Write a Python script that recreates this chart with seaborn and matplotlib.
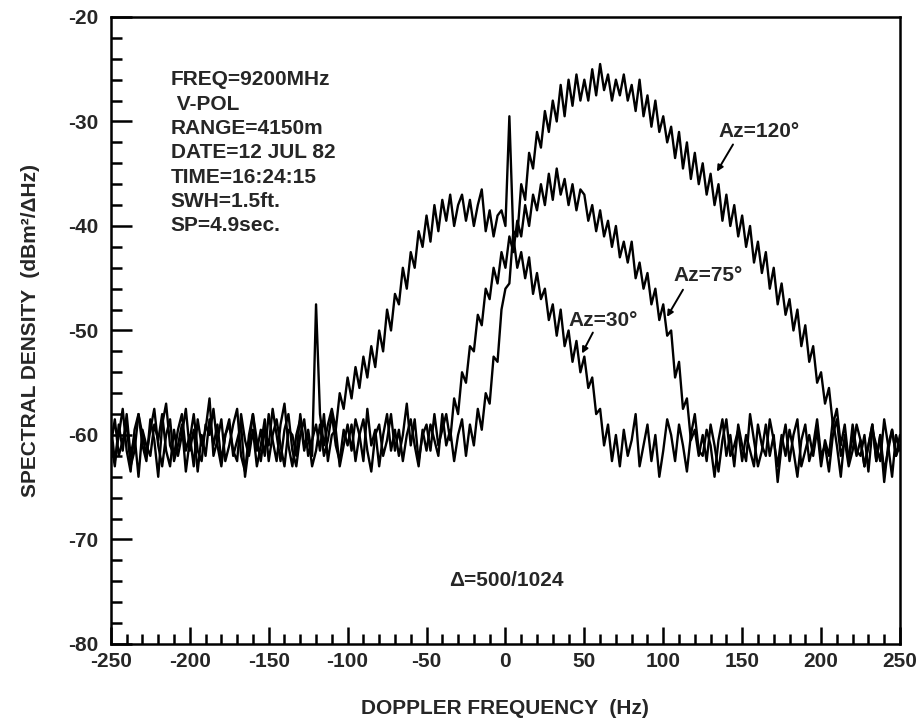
import numpy as np
import pandas as pd
import matplotlib
matplotlib.use("Agg")
import matplotlib.pyplot as plt
from matplotlib.ticker import MultipleLocator
import seaborn as sns

# Doppler frequency bins (Hz), 2.5 Hz spacing from -250 to 250
freq_hz = np.arange(-250.0, 250.0 + 0.01, 2.5)

# Spectral density (dBm^2/dHz), Az = 30 deg
az30 = [
    -59, -62.5, -60, -57.5, -61.5, -63.5, -59.5, -58, -61, -62.5,
    -58.5, -60.5, -64, -59, -57, -61, -62, -59.5, -58, -61.5,
    -60, -63, -58.5, -61, -59.5, -56.5, -62, -60.5, -58.5, -62.5,
    -61, -59, -57.5, -62, -63.5, -60, -58, -61.5, -59.5, -62,
    -58, -60.5, -62.5, -59, -57, -61, -63, -60, -58.5, -61.5,
    -59.5, -62, -47.5, -58, -61, -59, -57.5, -59.5, -56, -57.5,
    -54.5, -56.5, -53.5, -55.5, -52.5, -54.5, -51.5, -53.5, -50, -52,
    -48, -50, -46.5, -47.5, -44, -46, -42.5, -44, -40.5, -42,
    -39, -41.5, -38, -40.5, -37.5, -39.5, -37, -40, -38, -37,
    -39.5, -37.5, -40, -38, -36.5, -40.5, -38.5, -41, -39, -38.5,
    -40, -29.5, -41, -44, -42.5, -45, -43, -46.5, -44.5, -47,
    -46, -49, -47.5, -50.5, -48, -51.5, -50, -53, -51, -54,
    -52.5, -55.5, -54.5, -58, -57.5, -61, -59, -62.5, -60, -63,
    -59.5, -62, -60.5, -58, -63, -61, -59, -62.5, -60, -64,
    -61.5, -58.5, -60, -62.5, -59, -61, -63.5, -60, -58, -61.5,
    -62, -59.5, -61, -64, -60.5, -58.5, -62, -60, -63, -59,
    -61, -62.5, -58, -60.5, -63, -61.5, -59, -62, -60, -64.5,
    -61, -59, -62.5, -60, -58.5, -63, -61.5, -60, -62, -59.5,
    -63, -60.5, -62, -58.5, -61, -64, -60, -62.5, -59, -61.5,
    -62, -60, -63.5, -59.5, -61, -62.5, -58.5, -61, -64, -60,
    -61.5,
]

# Az = 75 deg
az75 = [
    -61, -58.5, -62, -60.5, -59, -63, -61.5, -58, -60, -62,
    -59.5, -57.5, -61, -63, -60, -58.5, -62.5, -61, -59, -63.5,
    -60.5, -58, -61.5, -62.5, -59, -60, -57.5, -61, -63, -60,
    -58.5, -62, -60.5, -59, -64, -61, -58, -60.5, -62.5, -59.5,
    -61, -57.5, -60, -62.5, -59.5, -58, -61.5, -63, -60, -58.5,
    -62, -60.5, -59, -61.5, -58, -62.5, -60, -59.5, -63, -61,
    -59, -61.5, -58.5, -60, -62.5, -57.5, -61, -59.5, -63, -60,
    -58, -61.5, -59.5, -62, -60, -57, -61, -58.5, -62.5, -60,
    -59, -61.5, -58, -61, -59.5, -58, -60.5, -56.5, -58, -54,
    -55, -51.5, -52, -48.5, -49.5, -46, -47, -44, -45.5, -42.5,
    -44, -41, -42.5, -39.5, -41, -38, -40, -37, -38.5, -36,
    -38, -35, -37.5, -34.5, -37, -35.5, -38, -36, -38.5, -36.5,
    -37, -39.5, -38, -40.5, -38.5, -41, -39.5, -42, -40, -43,
    -41.5, -43.5, -41.5, -45, -43.5, -46, -44.5, -47.5, -46, -49,
    -47.5, -50.5, -50, -54.5, -53, -57.5, -56.5, -60.5, -59.5, -62,
    -60, -62.5, -59, -61, -63.5, -60.5, -58.5, -62, -61, -59.5,
    -62.5, -60, -61.5, -63, -59, -61, -62, -58.5, -60.5, -63,
    -60, -62, -59.5, -61.5, -64, -60.5, -59, -62.5, -61, -58.5,
    -62, -61, -63.5, -60, -58.5, -62, -60.5, -63, -61.5, -59,
    -60.5, -63, -61, -59, -62.5, -60, -64.5, -61, -59.5, -62,
    -60,
]

# Az = 120 deg
az120 = [
    -60.5, -63, -59, -61.5, -58, -62, -60, -64, -59.5, -61,
    -62, -59, -60.5, -58, -61.5, -63, -59.5, -62, -60, -57.5,
    -61.5, -59.5, -63.5, -60, -62, -58.5, -61, -59, -62.5, -60,
    -59, -61.5, -62.5, -58, -60.5, -62, -59.5, -63, -61, -58.5,
    -62.5, -60, -58.5, -61, -63, -59.5, -60, -62, -58, -61,
    -60, -63, -61.5, -59, -62, -60.5, -58, -61, -62.5, -59.5,
    -61, -59, -62.5, -60, -58.5, -61.5, -63.5, -60, -59, -62,
    -60.5, -58, -61.5, -59.5, -62.5, -60, -58.5, -61, -63, -59.5,
    -61.5, -59, -60.5, -62, -58, -61, -59.5, -62.5, -60, -58.5,
    -62, -59, -61, -57.5, -59.5, -56, -57, -52.5, -53, -48,
    -46, -45.5, -40.5, -41, -36, -37.5, -33, -34.5, -31, -32.5,
    -29, -31, -28, -30, -26.5, -29.5, -26, -28.5, -25.5, -28,
    -26, -28, -25, -27.5, -24.5, -27, -25.5, -28, -26, -27.5,
    -25.5, -28, -26.5, -29, -26, -29.5, -27.5, -30.5, -28, -31,
    -29.5, -32, -30.5, -33.5, -31, -34.5, -32, -35.5, -33, -36,
    -34, -37, -35, -38, -36, -39.5, -37, -40, -38, -41,
    -39, -42, -40, -43.5, -41.5, -44.5, -42.5, -46, -44, -47.5,
    -45.5, -48.5, -47, -50, -48, -51.5, -49.5, -53, -51.5, -55,
    -54, -57, -55.5, -59, -57.5, -61, -59, -62.5, -60, -62,
    -60.5, -63, -61, -59, -62.5, -60, -63.5, -61.5, -59.5, -62,
    -61,
]

series_names = ["Az=30°", "Az=75°", "Az=120°"]

info_lines = ["FREQ=9200MHz", " V-POL", "RANGE=4150m", "DATE=12 JUL 82",
              "TIME=16:24:15", "SWH=1.5ft.", "SP=4.9sec."]

frames = []
for name, vals in zip(series_names, [az30, az75, az120]):
    frames.append(pd.DataFrame({"freq": freq_hz, "dens": vals, "az": name}))
df = pd.concat(frames, ignore_index=True)

sns.set_style("ticks")
plt.rcParams["font.family"] = ["Liberation Sans", "DejaVu Sans"]
plt.rcParams["font.weight"] = "bold"
plt.rcParams["axes.unicode_minus"] = False

fig = plt.figure(figsize=(9.24, 7.23), dpi=100)
ax = fig.add_axes([0.120, 0.1093, 0.854, 0.8672])

sns.lineplot(data=df, x="freq", y="dens", units="az", estimator=None,
             color="black", linewidth=1.7, sort=False, ax=ax, legend=False)

ax.set_xlim(-250, 250)
ax.set_ylim(-80, -20)
ax.xaxis.set_major_locator(MultipleLocator(50))
ax.xaxis.set_minor_locator(MultipleLocator(10))
ax.yaxis.set_major_locator(MultipleLocator(10))
ax.yaxis.set_minor_locator(MultipleLocator(2))

fs = 15
ax.tick_params(axis="both", which="both", direction="in", color="black",
               width=1.8, labelsize=fs)
ax.tick_params(axis="y", which="major", length=15, pad=9)
ax.tick_params(axis="y", which="minor", length=8)
ax.tick_params(axis="x", which="major", length=12, pad=6)
ax.tick_params(axis="x", which="minor", length=7)
for lab in ax.get_xticklabels() + ax.get_yticklabels():
    lab.set_fontweight("bold")

for sp in ax.spines.values():
    sp.set_linewidth(1.8)
    sp.set_color("black")

ax.set_xlabel("DOPPLER FREQUENCY  (Hz)", fontsize=fs, fontweight="bold",
              labelpad=20)
ax.set_ylabel("SPECTRAL DENSITY  (dBm²/ΔHz)", fontsize=fs, fontweight="bold",
              labelpad=20)

# Info block
y0, dy = -26.0, -2.33
for i, line in enumerate(info_lines):
    ax.text(-212, y0 + i * dy, line, fontsize=fs, fontweight="bold",
            ha="left", va="center")

ax.text(0.3, -73.9, "Δ=500/1024", fontsize=fs, fontweight="bold",
        ha="center", va="center")

# Curve labels with arrows
ann = [
    ("Az=120°", (160.6, -31.0), (144.2, -32.2), (134.0, -34.8)),
    ("Az=75°", (128.3, -44.7), (112.5, -46.1), (102.4, -48.7)),
    ("Az=30°", (61.8, -49.0), (55.4, -50.2), (48.5, -52.2)),
]
for txt, tpos, a0, a1 in ann:
    ax.text(tpos[0], tpos[1], txt, fontsize=fs, fontweight="bold",
            ha="center", va="center")
    ax.annotate("", xy=a1, xytext=a0,
                arrowprops=dict(arrowstyle="-|>", color="black", lw=1.4,
                                mutation_scale=9, shrinkA=0, shrinkB=0))

fig.savefig("out.png", dpi=100)
